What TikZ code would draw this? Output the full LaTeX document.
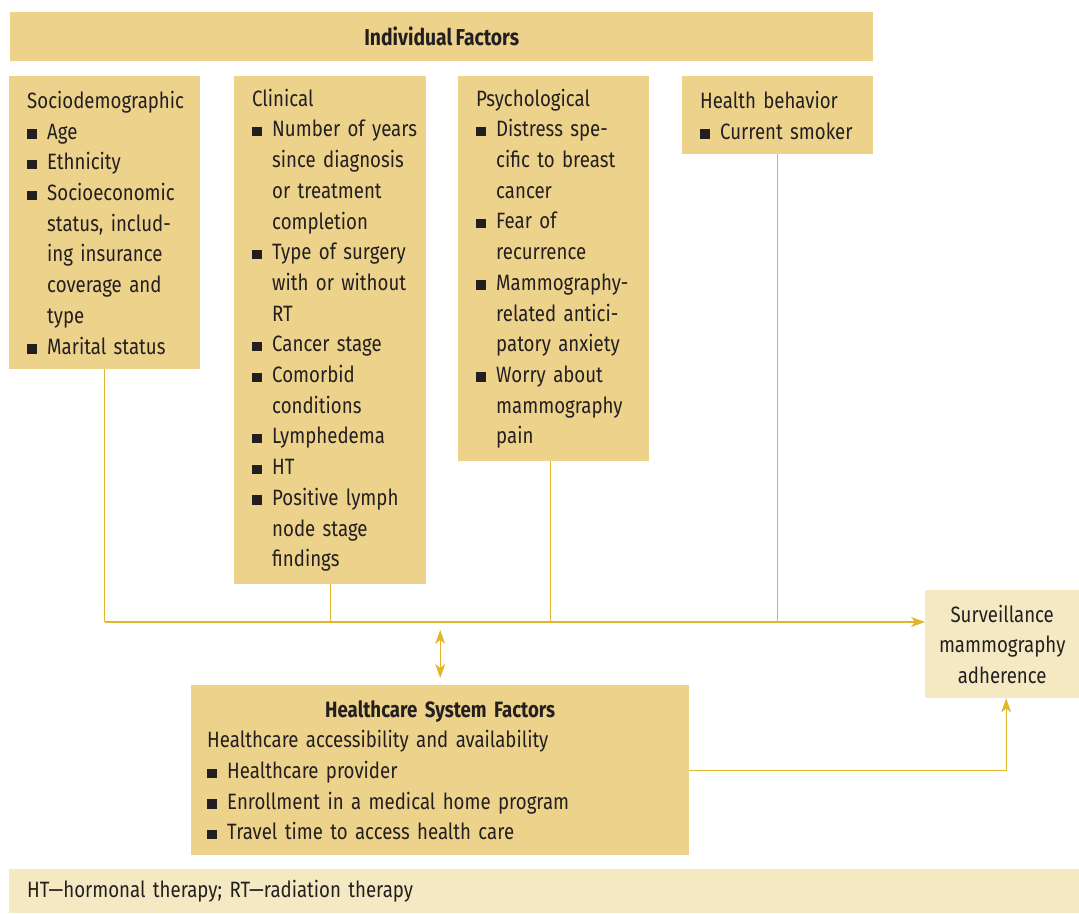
\documentclass[tikz,border=0pt]{standalone}
\usepackage{fontspec}
\setmainfont{Fira Sans}[FakeStretch=0.84,WordSpace=0.75]
\usetikzlibrary{arrows.meta}
\definecolor{boxc}{HTML}{EDD28B}
\definecolor{lightc}{HTML}{F4E9C2}
\definecolor{linec}{HTML}{E0B62A}
\definecolor{txtc}{HTML}{231F20}
\newcommand{\bq}{\makebox[20pt][l]{\raisebox{0.5pt}{\rule{9.5pt}{9.5pt}}}}
\newcommand{\ind}{\hspace*{20pt}}
\begin{document}
\begin{tikzpicture}[x=1pt,y=-1pt,
  font=\fontsize{22.2}{30.7}\selectfont, text=txtc,
  factbox/.style={fill=boxc, anchor=north west, align=left, inner xsep=18pt, inner ysep=0pt, text width=155pt},
  conn/.style={draw=linec, line width=1.3pt},
  tip/.style={-{Stealth[length=14pt,width=10pt,inset=4pt]}}
]
\useasboundingbox (0,0) rectangle (1079,913);
\node[fill=boxc, anchor=north west, minimum width=863pt, minimum height=49pt, inner sep=0pt, font=\fontsize{23}{30.7}\selectfont\bfseries] (ind) at (10,12) {Individual Factors};
\node[factbox, minimum height=293pt] (soc) at (9,76) {Sociodemographic\\ \bq Age\\ \bq Ethnicity\\ \bq Socioeconomic\\ \ind status, includ-\\ \ind ing insurance\\ \ind coverage and\\ \ind type\\ \bq Marital status};
\node[factbox, minimum height=508pt, text width=156pt] (cli) at (234,76) {Clinical\\ \bq \mbox{Number of years}\\ \ind since diagnosis\\ \ind or treatment\\ \ind completion\\ \bq Type of surgery\\ \ind with or without\\ \ind RT\\ \bq Cancer stage\\ \bq Comorbid\\ \ind conditions\\ \bq Lymphedema\\ \bq HT\\ \bq Positive lymph\\ \ind node stage\\ \ind findings};
\node[factbox, minimum height=385pt] (psy) at (458,76) {Psychological\\ \bq Distress spe-\\ \ind cific to breast\\ \ind cancer\\ \bq Fear of\\ \ind recurrence\\ \bq Mammography-\\ \ind related antici-\\ \ind patory anxiety\\ \bq Worry about\\ \ind mammography\\ \ind pain};
\node[factbox, minimum height=78pt] (hb) at (682,76) {Health behavior\\ \bq Current smoker};
\node[fill=lightc, anchor=north west, minimum width=154pt, minimum height=108pt, inner sep=0pt, align=center] (surv) at (925,590) {Surveillance\\ mammography\\ adherence};
\node[fill=boxc, anchor=north west, minimum height=170pt, inner xsep=16pt, inner ysep=0pt, text width=466pt, align=left] (hc) at (191,685) {\makebox[466pt][c]{\bfseries Healthcare System Factors}\\ Healthcare accessibility and availability\\ \bq Healthcare provider\\ \bq Enrollment in a medical home program\\ \bq Travel time to access health care};
\node[fill=lightc, anchor=north west, minimum width=1070pt, minimum height=44pt, inner xsep=18pt, inner ysep=0pt, text width=1034pt, align=left] (foot) at (9,869) {HT—hormonal therapy; RT—radiation therapy};
% connectors
\coordinate (bus) at (0,622);
\draw[conn] (soc.south) -- (soc.south |- bus);
\draw[conn] (cli.south) -- (cli.south |- bus);
\draw[conn] ([xshift=-3pt]psy.south) -- ([xshift=-3pt]psy.south |- bus);
\draw[conn] (hb.south) -- (hb.south |- bus);
\draw[conn,tip] (soc.south |- bus) -- (surv.west |- bus);
\coordinate (da1) at ([yshift=55pt]hc.north);
\coordinate (da2) at ([yshift=7pt]hc.north);
\draw[conn,{Stealth[length=14pt,width=10pt,inset=4pt]}-{Stealth[length=14pt,width=10pt,inset=4pt]}] (da1) -- (da2);
\draw[conn,tip] (hc.east) -| ([xshift=4pt]surv.south);
\end{tikzpicture}
\end{document}
